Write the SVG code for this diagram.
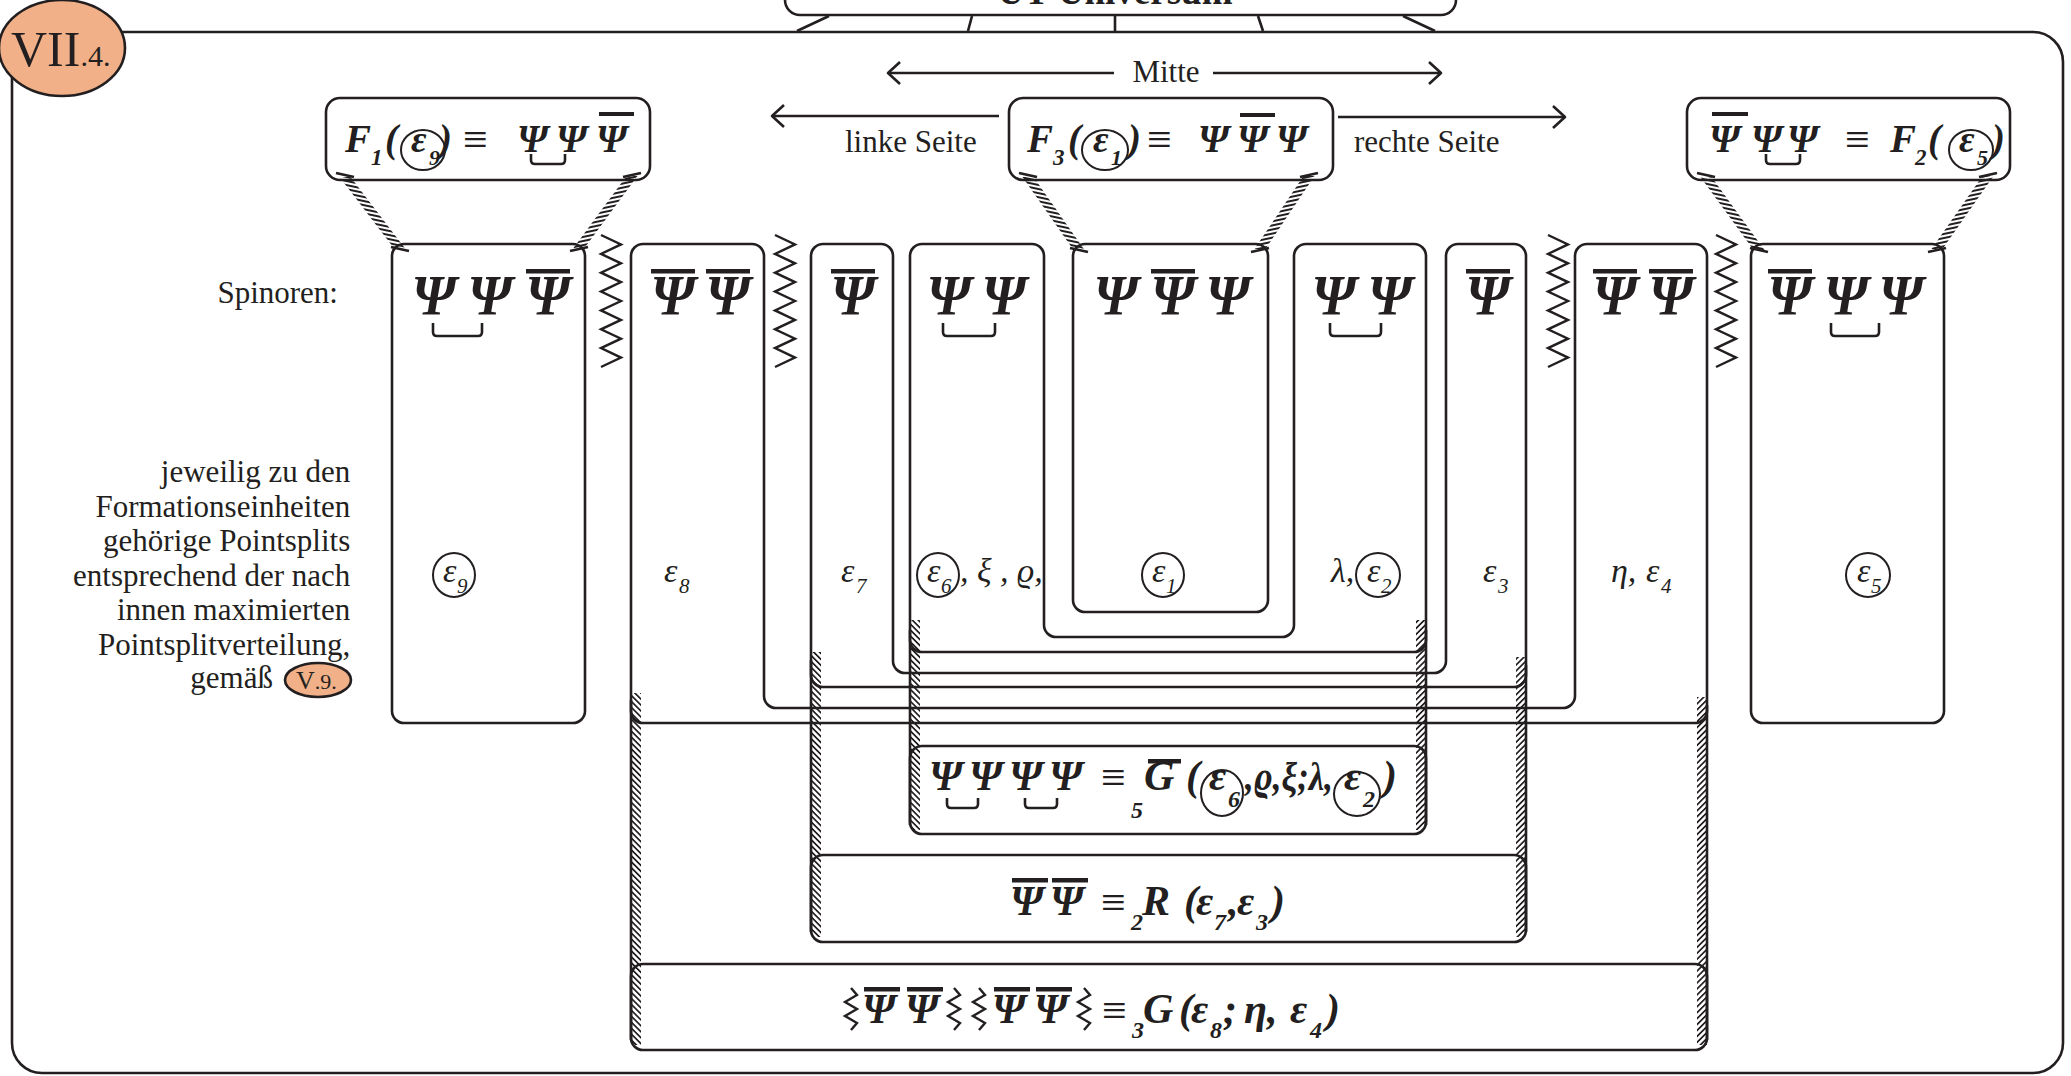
<svg xmlns="http://www.w3.org/2000/svg" width="2071" height="1076" viewBox="0 0 2071 1076">
<defs>
<style>
.ln{fill:none;stroke:#231f20;stroke-width:2.6;stroke-linejoin:round}
.bx{fill:none;stroke:#231f20;stroke-width:2.6}
.tx{font-family:"Liberation Serif","DejaVu Serif",serif;fill:#231f20}
.ps{font-family:"Liberation Serif","DejaVu Serif",serif;font-weight:bold;font-style:italic;font-size:56px;fill:#231f20;text-anchor:middle}
.fm{font-family:"Liberation Serif","DejaVu Serif",serif;font-weight:bold;font-style:italic;fill:#231f20}
.it{font-family:"Liberation Serif","DejaVu Serif",serif;font-style:italic;fill:#231f20}
.eq{font-family:"Liberation Serif","DejaVu Serif",serif;font-size:44px;fill:#231f20}
.bar{fill:#231f20}
.cap{stroke:#231f20;stroke-width:2.6}
.zz{fill:none;stroke:#231f20;stroke-width:2.4;stroke-linejoin:miter}
.br{fill:none;stroke:#231f20;stroke-width:2.6}
.cir{fill:none;stroke:#231f20;stroke-width:2}
.badge{fill:#f1b088;stroke:#231f20;stroke-width:2.6}
</style>
<pattern id="rgL" width="10" height="4" patternUnits="userSpaceOnUse" patternTransform="rotate(12)"><rect width="10" height="2" fill="#231f20"/></pattern>
<pattern id="rgR" width="10" height="4" patternUnits="userSpaceOnUse" patternTransform="rotate(-12)"><rect width="10" height="2" fill="#231f20"/></pattern>
<pattern id="hL" width="4.2" height="10" patternUnits="userSpaceOnUse" patternTransform="rotate(-45)"><rect width="1.7" height="10" fill="#231f20"/></pattern>
<pattern id="hR" width="4.2" height="10" patternUnits="userSpaceOnUse" patternTransform="rotate(45)"><rect width="1.7" height="10" fill="#231f20"/></pattern>
</defs>
<rect width="2071" height="1076" fill="#fff"/>

<g id="frame">
<rect x="12" y="32" width="2051" height="1041" rx="30" class="bx" stroke-width="2.8"/>
</g>
<g id="ut-universum">
<rect x="785" y="-30" width="671" height="45" rx="15" class="bx"/>
<text x="1115" y="4" class="tx" font-size="37" font-weight="bold" text-anchor="middle">UT-Universum</text>
<line x1="829" y1="16" x2="797" y2="31" class="ln"/>
<line x1="972" y1="16" x2="968" y2="31" class="ln"/>
<line x1="1115" y1="16" x2="1115" y2="31" class="ln"/>
<line x1="1258" y1="16" x2="1263" y2="31" class="ln"/>
<line x1="1403" y1="16" x2="1435" y2="31" class="ln"/>
</g>
<g id="badge-VII4">
<ellipse cx="62" cy="48" rx="63" ry="48" class="badge"/>
<text x="11" y="66" class="tx" font-size="50">VII<tspan font-size="30">.4.</tspan></text>
</g>

<g id="connectors">
<line x1="888" y1="73" x2="1114" y2="73" class="ln"/>
<polyline points="900,62 888,73 900,84" class="ln"/>
<line x1="1213" y1="73" x2="1441" y2="73" class="ln"/>
<polyline points="1429,62 1441,73 1429,84" class="ln"/>
<line x1="772" y1="116" x2="999" y2="116" class="ln"/>
<polyline points="784,105 772,116 784,127" class="ln"/>
<line x1="1338" y1="117" x2="1565" y2="117" class="ln"/>
<polyline points="1553,106 1565,117 1553,128" class="ln"/>
<polygon points="339.5,177 350.5,177 405.5,249 394.5,249" fill="url(#rgL)"/>
<line x1="336" y1="173" x2="354" y2="177" class="cap"/><line x1="391" y1="247" x2="409" y2="251" class="cap"/>
<polygon points="626.5,176 637.5,176 584.5,248 573.5,248" fill="url(#rgR)"/>
<line x1="623" y1="177" x2="641" y2="173" class="cap"/><line x1="570" y1="251" x2="588" y2="247" class="cap"/>
<polygon points="1022.5,177 1033.5,177 1084.5,250 1073.5,250" fill="url(#rgL)"/>
<line x1="1019" y1="173" x2="1037" y2="177" class="cap"/><line x1="1070" y1="248" x2="1088" y2="252" class="cap"/>
<polygon points="1303.5,176 1314.5,176 1265.5,249 1254.5,249" fill="url(#rgR)"/>
<line x1="1300" y1="177" x2="1318" y2="173" class="cap"/><line x1="1251" y1="252" x2="1269" y2="248" class="cap"/>
<polygon points="1700.5,177 1711.5,177 1764.5,250 1753.5,250" fill="url(#rgL)"/>
<line x1="1697" y1="173" x2="1715" y2="177" class="cap"/><line x1="1750" y1="248" x2="1768" y2="252" class="cap"/>
<polygon points="1982.5,176 1993.5,176 1942.5,249 1931.5,249" fill="url(#rgR)"/>
<line x1="1979" y1="177" x2="1997" y2="173" class="cap"/><line x1="1928" y1="252" x2="1946" y2="248" class="cap"/>
<rect x="631" y="693" width="10" height="352" fill="url(#hL)"/>
<line x1="631" y1="700" x2="631" y2="1040" class="ln"/>
<rect x="811" y="652" width="10" height="285" fill="url(#hL)"/>
<line x1="811" y1="660" x2="811" y2="932" class="ln"/>
<rect x="910" y="620" width="10" height="210" fill="url(#hL)"/>
<line x1="910" y1="630" x2="910" y2="825" class="ln"/>
<rect x="1416" y="620" width="10" height="210" fill="url(#hR)"/>
<line x1="1426" y1="630" x2="1426" y2="825" class="ln"/>
<rect x="1516" y="657" width="10" height="280" fill="url(#hR)"/>
<line x1="1526" y1="665" x2="1526" y2="932" class="ln"/>
<rect x="1697" y="697" width="10" height="348" fill="url(#hR)"/>
<line x1="1707" y1="705" x2="1707" y2="1040" class="ln"/>
<polyline class="zz" points="601,235 621,244.4 601,253.9 621,263.3 601,272.7 621,282.1 601,291.6 621,301 601,310.4 621,319.9 601,329.3 621,338.7 601,348.1 621,357.6 601,367"/>
<polyline class="zz" points="775,235 795,244.4 775,253.9 795,263.3 775,272.7 795,282.1 775,291.6 795,301 775,310.4 795,319.9 775,329.3 795,338.7 775,348.1 795,357.6 775,367"/>
<polyline class="zz" points="1548,235 1568,244.4 1548,253.9 1568,263.3 1548,272.7 1568,282.1 1548,291.6 1568,301 1548,310.4 1568,319.9 1548,329.3 1568,338.7 1548,348.1 1568,357.6 1548,367"/>
<polyline class="zz" points="1716,235 1736,244.4 1716,253.9 1736,263.3 1716,272.7 1736,282.1 1716,291.6 1736,301 1716,310.4 1736,319.9 1716,329.3 1736,338.7 1716,348.1 1736,357.6 1716,367"/>
</g>

<g id="labels">
<text x="338" y="303" class="tx" font-size="31" text-anchor="end">Spinoren:</text>
<text class="tx" font-size="31" text-anchor="end">
<tspan x="358" y="482">jeweilig zu den</tspan>
<tspan x="358" y="517">Formationseinheiten</tspan>
<tspan x="358" y="551">gehörige Pointsplits</tspan>
<tspan x="358" y="586">entsprechend der nach</tspan>
<tspan x="358" y="620">innen maximierten</tspan>
<tspan x="358" y="655">Pointsplitverteilung,</tspan>
<tspan x="273" y="688">gemäß</tspan>
</text>
<ellipse cx="318" cy="680" rx="33" ry="17" class="badge" stroke-width="2"/>
<text x="296" y="689" class="tx" font-size="26">V<tspan font-size="22">.9.</tspan></text>
<text x="1166" y="82" class="tx" font-size="31" text-anchor="middle">Mitte</text>
<text x="845" y="152" class="tx" font-size="31">linke Seite</text>
<text x="1354" y="152" class="tx" font-size="31">rechte Seite</text>
</g>

<g id="F1">
<rect x="326" y="98" width="324" height="82" rx="14" class="bx"/>
<text x="345" y="152" class="fm" font-size="39">F</text>
<text x="371" y="165" class="fm" font-size="23">1</text>
<text x="385" y="152" class="fm" font-size="39">(</text>
<ellipse cx="423" cy="150" rx="22" ry="20" class="cir"/>
<text x="411" y="152" class="fm" font-size="38">ε</text>
<text x="429" y="165" class="fm" font-size="22">9</text>
<text x="439" y="152" class="fm" font-size="39">)</text>
<text x="463" y="154" class="eq">≡</text>
<text x="517" y="152" class="fm" font-size="39">Ψ</text>
<text x="556" y="152" class="fm" font-size="39">Ψ</text>
<text x="596" y="152" class="fm" font-size="39">Ψ</text>
<rect x="599" y="112" width="35" height="4" class="bar"/>
<path d="M531,154 v6 q0,4 4,4 h26 q4,0 4,-4 v-6" class="br"/>
</g>
<g id="F3">
<rect x="1009" y="98" width="324" height="82" rx="14" class="bx"/>
<text x="1027" y="152" class="fm" font-size="39">F</text>
<text x="1053" y="165" class="fm" font-size="23">3</text>
<text x="1068" y="152" class="fm" font-size="39">(</text>
<ellipse cx="1105" cy="150" rx="23" ry="20" class="cir"/>
<text x="1093" y="152" class="fm" font-size="38">ε</text>
<text x="1111" y="165" class="fm" font-size="22">1</text>
<text x="1128" y="152" class="fm" font-size="39">)</text>
<text x="1147" y="154" class="eq">≡</text>
<text x="1198" y="152" class="fm" font-size="39">Ψ</text>
<text x="1237" y="152" class="fm" font-size="39">Ψ</text>
<rect x="1240" y="113" width="35" height="4" class="bar"/>
<text x="1276" y="152" class="fm" font-size="39">Ψ</text>
</g>
<g id="F2">
<rect x="1687" y="98" width="323" height="82" rx="14" class="bx"/>
<text x="1709" y="152" class="fm" font-size="39">Ψ</text>
<rect x="1712" y="112" width="36" height="4" class="bar"/>
<text x="1751" y="152" class="fm" font-size="39">Ψ</text>
<text x="1787" y="152" class="fm" font-size="39">Ψ</text>
<path d="M1766,154 v6 q0,4 4,4 h26 q4,0 4,-4 v-6" class="br"/>
<text x="1845" y="154" class="eq">≡</text>
<text x="1890" y="152" class="fm" font-size="39">F</text>
<text x="1915" y="165" class="fm" font-size="23">2</text>
<text x="1928" y="152" class="fm" font-size="39">(</text>
<ellipse cx="1971" cy="150" rx="22" ry="20" class="cir"/>
<text x="1959" y="152" class="fm" font-size="38">ε</text>
<text x="1977" y="165" class="fm" font-size="22">5</text>
<text x="1992" y="152" class="fm" font-size="39">)</text>
</g>

<g id="box-e9">
<rect x="392" y="244" width="193" height="479" rx="12" class="bx"/>
<text x="434" y="315" class="ps">Ψ</text>
<text x="490" y="315" class="ps">Ψ</text>
<text x="548" y="315" class="ps">Ψ</text>
<rect x="526" y="269" width="44" height="4.5" class="bar"/>
<path d="M433,323 v9 q0,4 4,4 h41 q4,0 4,-4 v-9" class="br"/>
<ellipse cx="454" cy="575" rx="21" ry="22" class="cir"/>
<text x="443" y="582" class="it" font-size="34">ε</text>
<text x="457" y="593" class="it" font-size="21">9</text>
</g>
<g id="U-e8-e4">
<path class="ln" d="M643,244 H752 A12,12 0 0 1 764,256 V696 A12,12 0 0 0 776,708 H1563 A12,12 0 0 0 1575,696 V256 A12,12 0 0 1 1587,244 H1695 A12,12 0 0 1 1707,256 V711 A12,12 0 0 1 1695,723 H643 A12,12 0 0 1 631,711 V256 A12,12 0 0 1 643,244 Z"/>
<text x="673" y="315" class="ps">Ψ</text>
<rect x="651" y="269" width="44" height="4.5" class="bar"/>
<text x="728" y="315" class="ps">Ψ</text>
<rect x="706" y="269" width="44" height="4.5" class="bar"/>
<text x="664" y="582" class="it" font-size="34">ε</text>
<text x="679" y="593" class="it" font-size="21">8</text>
<text x="1615" y="315" class="ps">Ψ</text>
<rect x="1593" y="269" width="44" height="4.5" class="bar"/>
<text x="1671" y="315" class="ps">Ψ</text>
<rect x="1649" y="269" width="44" height="4.5" class="bar"/>
<text x="1611" y="582" class="it" font-size="34">η,</text>
<text x="1646" y="582" class="it" font-size="34">ε</text>
<text x="1661" y="593" class="it" font-size="21">4</text>
</g>
<g id="U-e7-e3">
<path class="ln" d="M823,244 H881 A12,12 0 0 1 893,256 V661 A12,12 0 0 0 905,673 H1434 A12,12 0 0 0 1446,661 V256 A12,12 0 0 1 1458,244 H1514 A12,12 0 0 1 1526,256 V675 A12,12 0 0 1 1514,687 H823 A12,12 0 0 1 811,675 V256 A12,12 0 0 1 823,244 Z"/>
<text x="853" y="315" class="ps">Ψ</text>
<rect x="831" y="269" width="44" height="4.5" class="bar"/>
<text x="841" y="582" class="it" font-size="34">ε</text>
<text x="856" y="593" class="it" font-size="21">7</text>
<text x="1488" y="315" class="ps">Ψ</text>
<rect x="1466" y="269" width="44" height="4.5" class="bar"/>
<text x="1483" y="582" class="it" font-size="34">ε</text>
<text x="1498" y="593" class="it" font-size="21">3</text>
</g>
<g id="U-e6-e2">
<path class="ln" d="M922,244 H1032 A12,12 0 0 1 1044,256 V625 A12,12 0 0 0 1056,637 H1282 A12,12 0 0 0 1294,625 V256 A12,12 0 0 1 1306,244 H1414 A12,12 0 0 1 1426,256 V640 A12,12 0 0 1 1414,652 H922 A12,12 0 0 1 910,640 V256 A12,12 0 0 1 922,244 Z"/>
<text x="949" y="315" class="ps">Ψ</text>
<text x="1004" y="315" class="ps">Ψ</text>
<path d="M943,323 v9 q0,4 4,4 h44 q4,0 4,-4 v-9" class="br"/>
<ellipse cx="938" cy="575" rx="21" ry="22" class="cir"/>
<text x="927" y="582" class="it" font-size="34">ε</text>
<text x="941" y="593" class="it" font-size="21">6</text>
<text x="960" y="582" class="it" font-size="34">, ξ , ϱ,</text>
<text x="1334" y="315" class="ps">Ψ</text>
<text x="1390" y="315" class="ps">Ψ</text>
<path d="M1330,323 v9 q0,4 4,4 h43 q4,0 4,-4 v-9" class="br"/>
<text x="1331" y="582" class="it" font-size="34">λ,</text>
<ellipse cx="1378" cy="575" rx="22" ry="22" class="cir"/>
<text x="1367" y="582" class="it" font-size="34">ε</text>
<text x="1381" y="593" class="it" font-size="21">2</text>
</g>
<g id="box-e1">
<rect x="1073" y="244" width="195" height="368" rx="12" class="bx"/>
<text x="1116" y="315" class="ps">Ψ</text>
<text x="1173" y="315" class="ps">Ψ</text>
<rect x="1151" y="269" width="44" height="4.5" class="bar"/>
<text x="1228" y="315" class="ps">Ψ</text>
<ellipse cx="1163" cy="575" rx="21" ry="22" class="cir"/>
<text x="1152" y="582" class="it" font-size="34">ε</text>
<text x="1166" y="593" class="it" font-size="21">1</text>
</g>
<g id="box-e5">
<rect x="1751" y="244" width="193" height="479" rx="12" class="bx"/>
<text x="1790" y="315" class="ps">Ψ</text>
<rect x="1768" y="269" width="44" height="4.5" class="bar"/>
<text x="1846" y="315" class="ps">Ψ</text>
<text x="1901" y="315" class="ps">Ψ</text>
<path d="M1831,323 v9 q0,4 4,4 h40 q4,0 4,-4 v-9" class="br"/>
<ellipse cx="1868" cy="575" rx="22" ry="22" class="cir"/>
<text x="1857" y="582" class="it" font-size="34">ε</text>
<text x="1871" y="593" class="it" font-size="21">5</text>
</g>

<g id="G5">
<rect x="910" y="746" width="516" height="88" rx="12" class="bx"/>
<text x="929" y="790" class="fm" font-size="42">Ψ</text>
<text x="969" y="790" class="fm" font-size="42">Ψ</text>
<text x="1009" y="790" class="fm" font-size="42">Ψ</text>
<text x="1049" y="790" class="fm" font-size="42">Ψ</text>
<path d="M947,798 v6 q0,4 4,4 h23 q4,0 4,-4 v-6" class="br"/>
<path d="M1025,798 v6 q0,4 4,4 h24 q4,0 4,-4 v-6" class="br"/>
<text x="1101" y="792" class="eq">≡</text>
<text x="1131" y="818" class="fm" font-size="24">5</text>
<text x="1144" y="790" class="fm" font-size="42">G</text>
<rect x="1148" y="759" width="33" height="4.5" class="bar"/>
<text x="1186" y="790" class="fm" font-size="42">(</text>
<ellipse cx="1222" cy="793" rx="21" ry="23" class="cir"/>
<text x="1209" y="790" class="fm" font-size="42">ε</text>
<text x="1228" y="807" class="fm" font-size="24">6</text>
<text x="1245" y="790" class="fm" font-size="40" textLength="88" lengthAdjust="spacingAndGlyphs">,ϱ,ξ;λ,</text>
<ellipse cx="1357" cy="794" rx="23" ry="22" class="cir"/>
<text x="1344" y="790" class="fm" font-size="42">ε</text>
<text x="1363" y="807" class="fm" font-size="24">2</text>
<text x="1383" y="790" class="fm" font-size="42">)</text>
</g>
<g id="R2">
<rect x="811" y="855" width="715" height="87" rx="12" class="bx"/>
<text x="1010" y="915" class="fm" font-size="42">Ψ</text>
<rect x="1012" y="878" width="36" height="4.5" class="bar"/>
<text x="1050" y="915" class="fm" font-size="42">Ψ</text>
<rect x="1052" y="878" width="36" height="4.5" class="bar"/>
<text x="1101" y="917" class="eq">≡</text>
<text x="1131" y="930" class="fm" font-size="24">2</text>
<text x="1142" y="915" class="fm" font-size="42">R</text>
<text x="1184" y="915" class="fm" font-size="42">(</text>
<text x="1196" y="915" class="fm" font-size="42">ε</text>
<text x="1214" y="930" class="fm" font-size="24">7</text>
<text x="1228" y="915" class="fm" font-size="42">,</text>
<text x="1237" y="915" class="fm" font-size="42">ε</text>
<text x="1256" y="930" class="fm" font-size="24">3</text>
<text x="1271" y="915" class="fm" font-size="42">)</text>
</g>
<g id="G3">
<rect x="631" y="964" width="1076" height="86" rx="12" class="bx"/>
<polyline class="zz" stroke-width="2" points="851,988 857,995 845,1002 857,1009 845,1016 857,1023 851,1030"/>
<text x="862" y="1023" class="fm" font-size="42">Ψ</text>
<rect x="864" y="987" width="36" height="4.5" class="bar"/>
<text x="905" y="1023" class="fm" font-size="42">Ψ</text>
<rect x="907" y="987" width="36" height="4.5" class="bar"/>
<polyline class="zz" stroke-width="2" points="954,988 960,995 948,1002 960,1009 948,1016 960,1023 954,1030"/>
<polyline class="zz" stroke-width="2" points="979,988 985,995 973,1002 985,1009 973,1016 985,1023 979,1030"/>
<text x="992" y="1023" class="fm" font-size="42">Ψ</text>
<rect x="994" y="987" width="36" height="4.5" class="bar"/>
<text x="1034" y="1023" class="fm" font-size="42">Ψ</text>
<rect x="1036" y="987" width="36" height="4.5" class="bar"/>
<polyline class="zz" stroke-width="2" points="1084,988 1090,995 1078,1002 1090,1009 1078,1016 1090,1023 1084,1030"/>
<text x="1102" y="1025" class="eq">≡</text>
<text x="1132" y="1038" class="fm" font-size="24">3</text>
<text x="1143" y="1023" class="fm" font-size="42">G</text>
<text x="1179" y="1023" class="fm" font-size="42">(</text>
<text x="1191" y="1023" class="fm" font-size="42">ε</text>
<text x="1210" y="1038" class="fm" font-size="24">8</text>
<text x="1223" y="1023" class="fm" font-size="42">;</text>
<text x="1244" y="1023" class="fm" font-size="42">η,</text>
<text x="1290" y="1023" class="fm" font-size="42">ε</text>
<text x="1310" y="1038" class="fm" font-size="24">4</text>
<text x="1326" y="1023" class="fm" font-size="42">)</text>
</g>
</svg>
